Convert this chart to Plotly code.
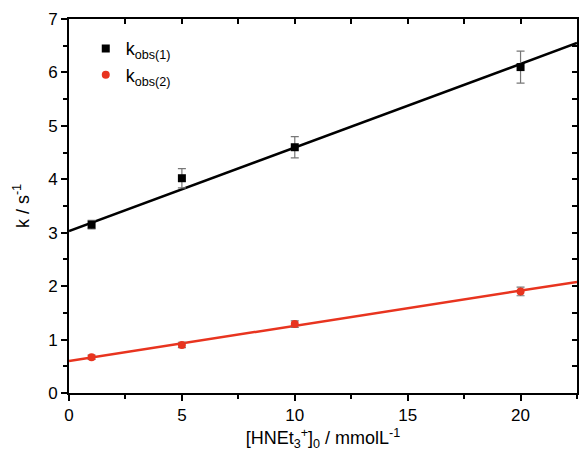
import plotly.graph_objects as go

# Data
conc = [1, 5, 10, 20]
k1 = [3.15, 4.02, 4.60, 6.10]
k1_err = [0.08, 0.18, 0.20, 0.30]
k2 = [0.67, 0.90, 1.29, 1.90]
k2_err = [0.04, 0.05, 0.06, 0.08]
fit_x = [0, 22.5]
fit1_y = [3.03, 6.55]
fit2_y = [0.60, 2.08]

red = "#e8341f"
font = "Liberation Sans, Arial, sans-serif"

fig = go.Figure()
fig.add_trace(go.Scatter(x=fit_x, y=fit1_y, mode="lines", line=dict(color="black", width=2.5),
                         showlegend=False, hoverinfo="skip"))
fig.add_trace(go.Scatter(x=fit_x, y=fit2_y, mode="lines", line=dict(color=red, width=2.5),
                         showlegend=False, hoverinfo="skip"))
fig.add_trace(go.Scatter(x=conc, y=k1, mode="markers", name="k<sub>obs(1)</sub>",
                         marker=dict(symbol="square", size=8, color="black"),
                         error_y=dict(type="data", array=k1_err, color="#777777", thickness=1.2, width=4)))
fig.add_trace(go.Scatter(x=conc, y=k2, mode="markers", name="k<sub>obs(2)</sub>",
                         marker=dict(symbol="circle", size=8, color=red),
                         error_y=dict(type="data", array=k2_err, color="#777777", thickness=1.2, width=4)))
# dummy trace for mirrored axes
fig.add_trace(go.Scatter(x=[None], y=[None], xaxis="x2", yaxis="y2", showlegend=False, hoverinfo="skip"))

axis_common = dict(showline=True, linecolor="black", linewidth=2, showgrid=False, zeroline=False,
                   tickcolor="black", tickwidth=2, ticklen=6,
                   tickfont=dict(family=font, size=17, color="black"))

fig.update_layout(
    width=579, height=451,
    margin=dict(l=69, r=2, t=19, b=58),
    plot_bgcolor="white", paper_bgcolor="white",
    font=dict(family=font, color="black"),
    xaxis=dict(range=[0, 22.5], ticks="outside", dtick=5, tick0=0,
               minor=dict(dtick=2.5, ticks="outside", ticklen=4, tickcolor="black", tickwidth=2),
               title=dict(text="[HNEt<sub>3</sub><sup>+</sup>]<sub>0</sub> / mmolL<sup>-1</sup>",
                          font=dict(family=font, size=18), standoff=8),
               **axis_common),
    yaxis=dict(range=[0, 7], ticks="outside", dtick=1, tick0=0,
               minor=dict(dtick=0.5, ticks="outside", ticklen=4, tickcolor="black", tickwidth=2),
               title=dict(text="k / s<sup>-1</sup>", font=dict(family=font, size=18), standoff=14),
               **axis_common),
    xaxis2=dict(overlaying="x", side="top", anchor="y", matches="x", ticks="inside",
                dtick=2.5, tick0=0, showticklabels=False, showline=True, linecolor="black",
                linewidth=2, showgrid=False, zeroline=False, tickcolor="black", tickwidth=2, ticklen=5),
    yaxis2=dict(overlaying="y", side="right", anchor="x", matches="y", ticks="inside",
                dtick=0.5, tick0=0, showticklabels=False, showline=True, linecolor="black",
                linewidth=2, showgrid=False, zeroline=False, tickcolor="black", tickwidth=2, ticklen=5),
    legend=dict(x=0.033, y=0.97, xanchor="left", yanchor="top", bgcolor="rgba(0,0,0,0)",
                font=dict(family=font, size=18, color="black"), tracegroupgap=4),
)

fig.write_html("out.html")
